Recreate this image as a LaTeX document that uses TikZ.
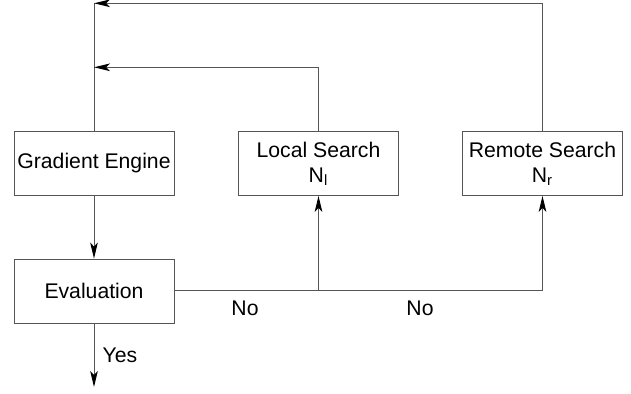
\documentclass[tikz,border=0pt]{standalone}
\usepackage{fontspec}
\setmainfont{Liberation Sans}
\usetikzlibrary{arrows.meta, positioning}
\definecolor{linecol}{HTML}{555555}
\tikzset{
  boxnode/.style={rectangle, draw=linecol, fill=white, minimum width=80pt, minimum height=32pt, inner sep=0pt, align=center, font=\fontsize{10.6}{12.5}\selectfont},
  lblnode/.style={font=\fontsize{10.6}{12.5}\selectfont, inner sep=0pt},
  flow/.style={draw=linecol, line width=0.5pt},
}
\begin{document}
\begin{tikzpicture}[>={Stealth[length=8pt, width=3.8pt, inset=2pt, color=black]}, x=0.5pt, y=-0.5pt]
  \useasboundingbox (0,0) rectangle (631,394);
  \node[boxnode] (ge) at (94, 163.5)    {Gradient Engine};
  \node[boxnode] (ls) at (318.5, 163.5) {Local Search\\N\textsubscript{l}};
  \node[boxnode] (rs) at (542.5, 163.5) {Remote Search\\N\textsubscript{r}};
  \node[boxnode] (ev) at (94, 291)      {Evaluation};
  \coordinate (tl)  at (94, 3.3);
  \coordinate (ml)  at (94, 67.3);
  \coordinate (out) at (94, 387);
  \coordinate (jl)  at (318.5, 291);
  \coordinate (jr)  at (542.5, 291);
  % feedback to the engine
  \draw[flow] (ge.north) -- (tl);
  \draw[flow, ->] (rs.north) |- (tl);
  \draw[flow, ->] (ls.north) |- (ml);
  \draw[flow, ->] (ge.south) -- (ev.north);
  % evaluation result
  \draw[flow] (ev.east) -- (jr);
  \draw[flow, ->] (jl) -- (ls.south);
  \draw[flow, ->] (jr) -- (rs.south);
  \draw[flow, ->] (ev.south) -- (out);
  \node[lblnode] (yes) at (120, 355) {Yes};
  \node[lblnode] (no1) at (245, 308) {No};
  \node[lblnode] (no2) at (420, 308) {No};
\end{tikzpicture}
\end{document}
